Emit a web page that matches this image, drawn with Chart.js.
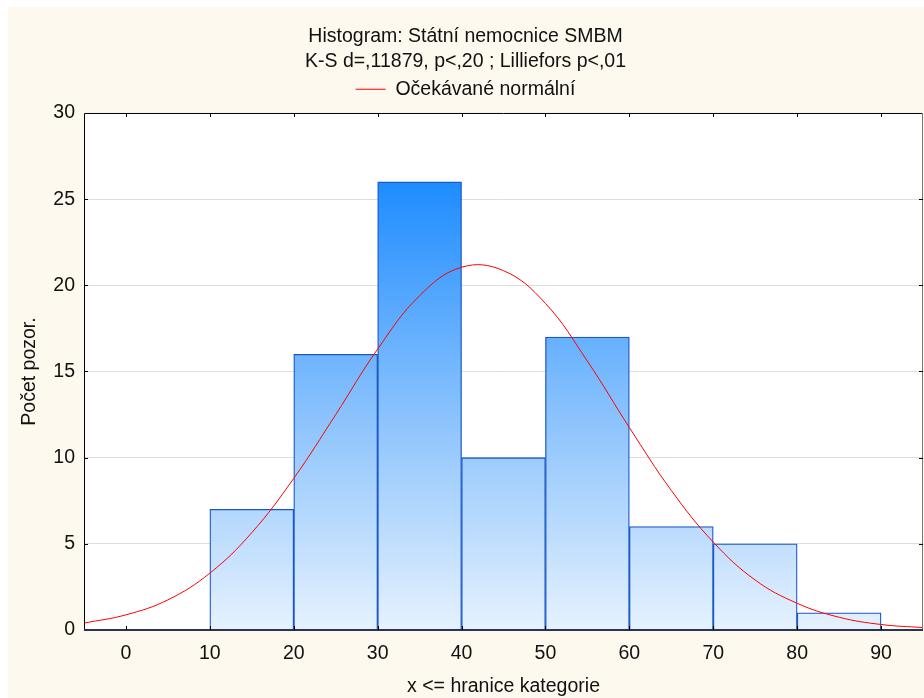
<!DOCTYPE html>
<html>
<head>
<meta charset="utf-8">
<script src="https://cdn.jsdelivr.net/npm/chart.js@4.4.0/dist/chart.umd.min.js"></script>
<style>
  html, body { margin:0; padding:0; background:#fff; }
  canvas { display:block; }
</style>
</head>
<body>
<canvas id="hist" width="924" height="698"></canvas>
<script>
// histogram bins (lower edge) and counts
const binStarts = [10, 20, 30, 40, 50, 60, 70, 80];
const counts = [7, 16, 26, 10, 17, 6, 5, 1];
const binWidth = 10;

// expected normal curve, every 5 units
const curveX = [-5, 0, 5, 10, 15, 20, 25, 30, 35, 40, 45, 50, 55, 60, 65, 70, 75, 80, 85, 90, 95];
const curveY = [0.4, 0.88, 1.75, 3.3, 5.65, 8.8, 12.5, 16.3, 19.4, 21.05, 20.85, 18.95, 15.6, 11.75, 8.1, 5.1, 2.9, 1.55, 0.74, 0.32, 0.14];

const xTicks = [0, 10, 20, 30, 40, 50, 60, 70, 80, 90];
const xMin = -5, xMax = 95;
const yMin = 0, yMax = 30, yStep = 5;

const titleLines = ["Histogram: Státní nemocnice SMBM", "K-S d=,11879, p<,20 ; Lilliefors p<,01"];
const curveLabel = "Očekávané normální";
const xTitle = "x <= hranice kategorie";
const yTitle = "Počet pozor.";

const FONT = "'Liberation Sans', Arial, sans-serif";
const FS = 19.5;
const TXT = "#111";

// gradient for bars, fixed to the y scale (same height = same colour)
function barGradient(ctx){
  const chart = ctx.chart;
  const {chartArea} = chart;
  if(!chartArea) return "#6fb4ff";
  const y = chart.scales.y;
  const top = y.getPixelForValue(Math.max(...counts));
  const bottom = y.getPixelForValue(0);
  const g = chart.ctx.createLinearGradient(0, top, 0, bottom);
  g.addColorStop(0, "#1e8cff");
  g.addColorStop(0.5, "#86c0fd");
  g.addColorStop(1, "#e6f2fe");
  return g;
}

// cream page + white plot area
const background = {
  id: "background",
  beforeDraw(chart){
    const {ctx, chartArea:a} = chart;
    ctx.save();
    ctx.fillStyle = "#ffffff";
    ctx.fillRect(0, 0, chart.width, chart.height);
    ctx.fillStyle = "#fdf9ee";
    ctx.fillRect(8, 7, chart.width - 8, chart.height - 7);
    ctx.fillStyle = "#ffffff";
    ctx.fillRect(a.left, a.top, a.right - a.left, a.bottom - a.top);
    ctx.restore();
  }
};

// box around the plot with inward ticks
const frame = {
  id: "frame",
  afterDraw(chart){
    const {ctx, chartArea:a, scales} = chart;
    ctx.save();
    ctx.lineWidth = 1;
    ctx.strokeStyle = "#000";
    ctx.beginPath();
    ctx.moveTo(a.left + 0.5, a.bottom);
    ctx.lineTo(a.left + 0.5, a.top + 0.5);
    ctx.lineTo(a.right - 0.5, a.top + 0.5);
    ctx.stroke();
    ctx.strokeStyle = "#777";
    ctx.beginPath();
    ctx.moveTo(a.right - 0.5, a.top);
    ctx.lineTo(a.right - 0.5, a.bottom);
    ctx.stroke();
    ctx.strokeStyle = "#2a3550";
    ctx.lineWidth = 2;
    ctx.beginPath();
    ctx.moveTo(a.left, a.bottom);
    ctx.lineTo(a.right, a.bottom);
    ctx.stroke();
    ctx.lineWidth = 1;
    ctx.strokeStyle = "#000";
    ctx.beginPath();
    xTicks.forEach(v=>{
      const px = Math.round(scales.x.getPixelForValue(v)) + 0.5;
      ctx.moveTo(px, a.bottom); ctx.lineTo(px, a.bottom - 4);
      ctx.moveTo(px, a.top); ctx.lineTo(px, a.top + 4);
    });
    for(let v = yMin + yStep; v < yMax; v += yStep){
      const py = Math.round(scales.y.getPixelForValue(v)) + 0.5;
      ctx.moveTo(a.left, py); ctx.lineTo(a.left + 4, py);
      ctx.moveTo(a.right, py); ctx.lineTo(a.right - 4, py);
    }
    ctx.stroke();
    ctx.restore();
  }
};

// extra room under the legend
const legendGap = {
  id: "legendGap",
  beforeInit(chart){
    const fit = chart.legend.fit;
    chart.legend.fit = function(){
      fit.bind(chart.legend)();
      this.height += 4;
    };
  }
};

new Chart(document.getElementById("hist"), {
  data: {
    datasets: [
      {
        type: "line",
        label: curveLabel,
        data: curveX.map((x,i)=>({x, y: curveY[i]})),
        borderColor: "#ff0000",
        borderWidth: 1,
        pointRadius: 0,
        tension: 0.4,
        fill: false,
        order: 0
      },
      {
        type: "bar",
        label: "bins",
        data: binStarts.map((b,i)=>({x: b + binWidth/2, y: counts[i]})),
        backgroundColor: barGradient,
        borderColor: "#1a57c9",
        borderWidth: 1.3,
        barPercentage: 1,
        categoryPercentage: 1,
        order: 1
      }
    ]
  },
  options: {
    responsive: false,
    devicePixelRatio: 1,
    animation: false,
    layout: { padding: { left: 8, right: 1, top: 7, bottom: 0 } },
    plugins: {
      title: {
        display: true,
        text: titleLines,
        color: TXT,
        font: { family: FONT, size: FS, weight: "normal", lineHeight: 1.282 },
        padding: { top: 17.5, bottom: 0 }
      },
      legend: {
        display: true,
        labels: {
          filter: item => item.text === curveLabel,
          usePointStyle: true,
          pointStyle: "line",
          pointStyleWidth: 30,
          color: TXT,
          font: { family: FONT, size: FS },
          padding: 5
        }
      },
      tooltip: { enabled: false }
    },
    scales: {
      x: {
        type: "linear",
        min: xMin,
        max: xMax,
        offset: false,
        afterBuildTicks: s => { s.ticks = xTicks.map(v=>({value: v})); },
        grid: { display: false, drawTicks: false },
        border: { display: false },
        ticks: { color: TXT, font: { family: FONT, size: FS }, padding: 12, maxRotation: 0 },
        title: { display: true, text: xTitle, color: TXT, font: { family: FONT, size: FS }, padding: { top: 0, bottom: 0 } },
        afterFit: s => { s.height = 68; }
      },
      y: {
        min: yMin,
        max: yMax,
        ticks: { stepSize: yStep, color: TXT, font: { family: FONT, size: FS }, padding: 9 },
        grid: {
          drawTicks: false,
          color: c => (c.tick.value === yMin || c.tick.value === yMax) ? "rgba(0,0,0,0)" : "#dedede",
          lineWidth: 1
        },
        border: { display: false },
        title: { display: true, text: yTitle, color: TXT, font: { family: FONT, size: FS }, padding: { top: 10, bottom: 0 } },
        afterFit: s => { s.width = 76; }
      }
    }
  },
  plugins: [background, frame, legendGap]
});
</script>
</body>
</html>
